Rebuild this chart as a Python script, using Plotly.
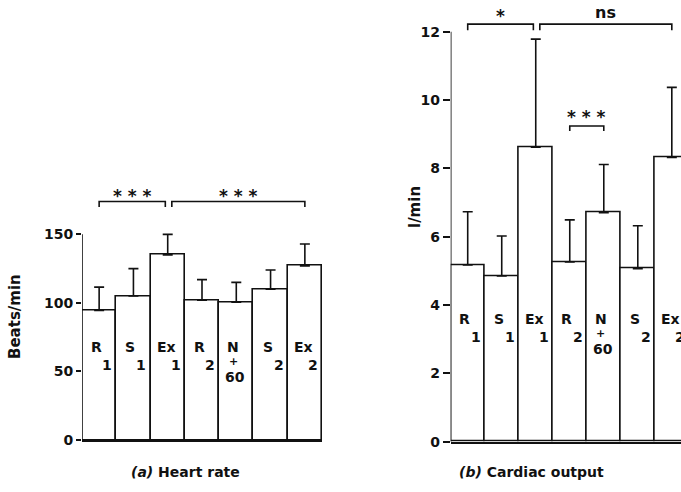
import plotly.graph_objects as go

# ---------------- data ----------------
categories = ["R1", "S1", "Ex1", "R2", "N+60", "S2", "Ex2"]
label_main = ["R", "S", "Ex", "R", "N", "S", "Ex"]
label_sub = ["1", "1", "1", "2", "60", "2", "2"]

hr_mean = [94.5, 105, 135, 102, 100.5, 110, 127]
hr_sd = [17, 20, 15, 15, 14.5, 14, 16]

co_mean = [5.17, 4.85, 8.62, 5.26, 6.70, 5.06, 8.32]
co_sd = [1.56, 1.17, 3.16, 1.23, 1.41, 1.26, 2.05]

hr_ticks = [0, 50, 100, 150]
co_ticks = [0, 2, 4, 6, 8, 10, 12]

# significance comparisons: (from index, to index, label)
hr_sig = [(0, 2, "* * *"), (2, 6, "* * *")]
co_sig = [(0, 2, "*"), (2, 6, "ns"), (3, 4, "* * *")]

# ---------------- style ----------------
FONT = "DejaVu Sans"
BLACK = "#111111"
LW = 1.6

fig = go.Figure()
idx = list(range(len(categories)))

for mean, sd, xa, ya in [(hr_mean, hr_sd, "x", "y"), (co_mean, co_sd, "x2", "y2")]:
    fig.add_trace(go.Bar(
        x=idx, y=mean, xaxis=xa, yaxis=ya,
        marker=dict(color="white", line=dict(color=BLACK, width=LW)),
        error_y=dict(type="data", symmetric=False, array=sd,
                     arrayminus=[0] * len(sd), color=BLACK,
                     thickness=LW, width=5),
        width=1.0, showlegend=False, hoverinfo="skip",
    ))

shapes = []
annotations = []


def txt(xref, yref, x, y, text, size, xshift=0, yshift=0):
    return dict(xref=xref, yref=yref, x=x, y=y, text="<b>%s</b>" % text,
                showarrow=False, xshift=xshift, yshift=yshift,
                xanchor="center", yanchor="middle",
                font=dict(family=FONT, size=size, color=BLACK, weight="bold"))


def add_panel(xref, yref, ticks, lab_y, sig, sig_line, sig_tick, sig_text):
    # y axis line from 0 to last tick
    shapes.append(dict(type="line", xref=xref, yref=yref, x0=-0.5, x1=-0.5,
                       y0=0, y1=ticks[-1], line=dict(color=BLACK, width=LW)))
    # bar labels
    for i, (m, s) in enumerate(zip(label_main, label_sub)):
        if m == "N":
            annotations.append(txt(xref, yref, i, lab_y, "N", 14, xshift=-3))
            annotations.append(txt(xref, yref, i, lab_y, "+", 11, xshift=-3, yshift=-15))
            annotations.append(txt(xref, yref, i, lab_y, s, 14, xshift=-1, yshift=-30))
        else:
            annotations.append(txt(xref, yref, i, lab_y, m, 14, xshift=(-1 if len(m) > 1 else -3)))
            annotations.append(txt(xref, yref, i, lab_y, s, 14, xshift=8, yshift=-18))
    # significance brackets
    for k, (a, b, t) in enumerate(sig):
        ln, tk, tx = sig_line[k], sig_tick[k], sig_text[k]
        others = [s for j, s in enumerate(sig) if j != k]
        x0 = a + (0.12 if any(s[1] == a for s in others) else 0)
        x1 = b - (0.07 if any(s[0] == b for s in others) else 0)
        shapes.append(dict(type="path", xref=xref, yref=yref,
                           path="M %f,%f L %f,%f L %f,%f L %f,%f" % (x0, tk, x0, ln, x1, ln, x1, tk),
                           line=dict(color=BLACK, width=LW)))
        is_star = "*" in t
        annotations.append(txt(xref, yref, (x0 + x1) / 2, tx, t,
                               17 if is_star else 16, yshift=(-3 if is_star else 0)))


add_panel("x", "y", hr_ticks, 68, hr_sig, [174, 174], [170, 170], [180, 180])
add_panel("x2", "y2", co_ticks, 3.6, co_sig, [12.22, 12.22, 9.24], [12.04, 12.04, 9.09], [12.55, 12.55, 9.6])

# axis titles and panel titles
annotations += [
    dict(xref="paper", yref="paper", x=15 / 681, y=1 - 317 / 492, text="<b>Beats/min</b>",
         textangle=-90, showarrow=False, xanchor="center", yanchor="middle",
         font=dict(family=FONT, size=15, color=BLACK, weight="bold")),
    dict(xref="paper", yref="paper", x=415 / 681, y=1 - 207 / 492, text="<b>l/min</b>",
         textangle=-90, showarrow=False, xanchor="center", yanchor="middle",
         font=dict(family=FONT, size=15, color=BLACK, weight="bold")),
    dict(xref="paper", yref="paper", x=185 / 681, y=1 - 472 / 492, text="<b><i>(a)</i> Heart rate</b>",
         showarrow=False, xanchor="center", yanchor="middle",
         font=dict(family=FONT, size=14, color=BLACK, weight="bold")),
    dict(xref="paper", yref="paper", x=531 / 681, y=1 - 472 / 492, text="<b><i>(b)</i> Cardiac output</b>",
         showarrow=False, xanchor="center", yanchor="middle",
         font=dict(family=FONT, size=14, color=BLACK, weight="bold")),
]

xcommon = dict(showgrid=False, zeroline=False, showticklabels=False, ticks="",
               showline=True, linecolor=BLACK, linewidth=LW, automargin=False)
ycommon = dict(showgrid=False, zeroline=False, showline=False, ticks="outside",
               tickwidth=LW, tickcolor=BLACK, automargin=False,
               tickfont=dict(family=FONT, size=14, color=BLACK, weight="bold"))

fig.update_layout(
    template="none",
    width=681, height=492, autosize=False,
    margin=dict(l=0, r=0, t=0, b=0, pad=0, autoexpand=False),
    paper_bgcolor="white", plot_bgcolor="white",
    bargap=0,
    font=dict(family=FONT, color=BLACK, weight="bold"),
    xaxis=dict(domain=[82 / 681, 322 / 681], range=[-0.5, 6.5], anchor="y", **xcommon),
    yaxis=dict(domain=[52 / 492, 1 - 179.5 / 492], range=[0, 190], anchor="x",
               tickvals=hr_ticks, ticklen=5, **ycommon),
    xaxis2=dict(domain=[450.7 / 681, 1.0], range=[-0.5, 6.27], anchor="y2", **xcommon),
    yaxis2=dict(domain=[1 - 441.7 / 492, 1 - 4.3 / 492], range=[0, 12.8], anchor="x2",
                tickvals=co_ticks, ticklen=7, **ycommon),
    shapes=shapes,
    annotations=annotations,
)

fig.write_html("out.html", config={"displayModeBar": False},
               post_script="document.body.style.margin='0';")
